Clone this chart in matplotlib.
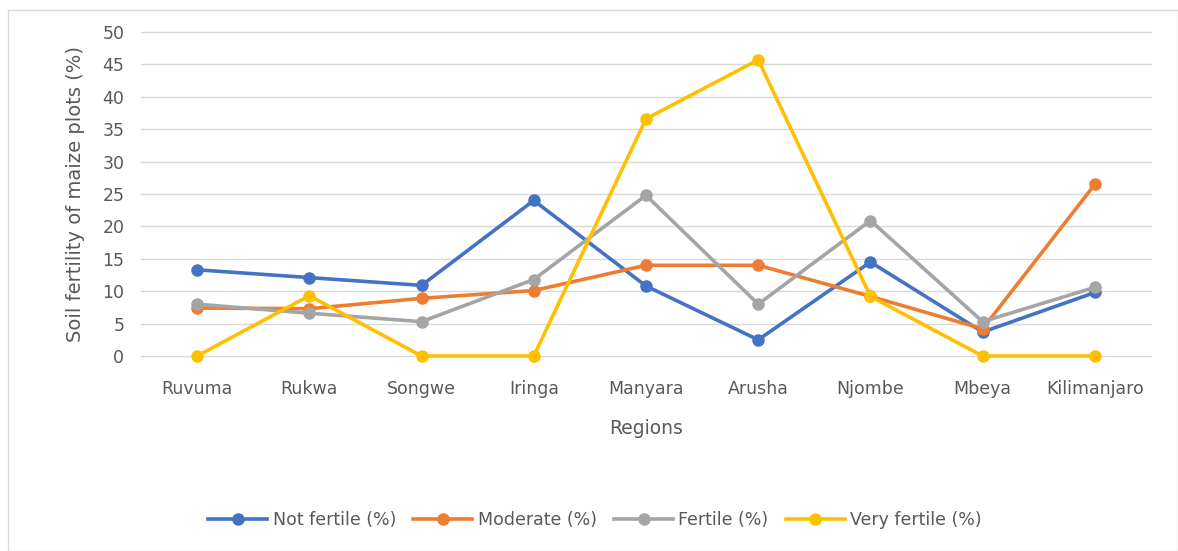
import matplotlib.pyplot as plt
from matplotlib.patches import Rectangle

plt.rcParams['font.family'] = ['DejaVu Sans']

regions = ['Ruvuma', 'Rukwa', 'Songwe', 'Iringa', 'Manyara', 'Arusha',
           'Njombe', 'Mbeya', 'Kilimanjaro']
not_fertile = [13.3, 12.1, 10.9, 24.0, 10.8, 2.5, 14.5, 3.7, 9.8]
moderate = [7.4, 7.3, 8.9, 10.1, 14.0, 14.0, 9.2, 4.2, 26.5]
fertile = [8.0, 6.6, 5.3, 11.8, 24.8, 8.0, 20.9, 5.3, 10.6]
very_fertile = [0, 9.3, 0, 0, 36.6, 45.7, 9.2, 0, 0]

series = [
    ('Not fertile (%)', not_fertile, '#4472C4'),
    ('Moderate (%)', moderate, '#ED7D31'),
    ('Fertile (%)', fertile, '#A5A5A5'),
    ('Very fertile (%)', very_fertile, '#FFC000'),
]

fig = plt.figure(figsize=(11.78, 5.51), dpi=100)
# chart border
fig.patches.append(Rectangle((8 / 1178, 0), 1 - 8 / 1178, 1 - 10 / 551,
                             transform=fig.transFigure, fill=False,
                             edgecolor='#D9D9D9', linewidth=1))

ax = fig.add_axes([141 / 1178, 1 - 356 / 551, 1010 / 1178, 324 / 551])
x = list(range(len(regions)))
for name, vals, col in series:
    ax.plot(x, vals, color=col, linewidth=2.6, marker='o', markersize=8,
            label=name, solid_joinstyle='round', clip_on=False, zorder=3)

ax.set_xlim(-0.5, len(regions) - 0.5)
ax.set_ylim(0, 50)
ax.set_yticks(range(0, 51, 5))
ax.set_xticks(x)
ax.set_xticklabels(regions)
ax.set_axisbelow(True)
for yv in range(0, 51, 5):
    ax.axhline(yv, color='#D9D9D9', linewidth=1, clip_on=False, zorder=1)
for s in ax.spines.values():
    s.set_visible(False)
ax.tick_params(length=0, labelsize=12.5, colors='#595959')
ax.tick_params(axis='y', pad=12)
ax.tick_params(axis='x', pad=17)
ax.set_xlabel('Regions', fontsize=13.5, color='#595959')
ax.set_ylabel('Soil fertility of maize plots (%)', fontsize=14,
              color='#595959')
ax.xaxis.set_label_coords(0.5, (356 - 428) / 324, transform=ax.transAxes)
ax.yaxis.set_label_coords((76 - 141) / 1010, 0.5, transform=ax.transAxes)
ax.xaxis.label.set_va('center')
ax.yaxis.label.set_va('center')

leg = fig.legend(loc='center', bbox_to_anchor=(595 / 1178, 1 - 520 / 551),
                 ncol=4, frameon=False, fontsize=12.5, handlelength=3.4,
                 columnspacing=1.0, handletextpad=0.3)
for t in leg.get_texts():
    t.set_color('#595959')

fig.savefig('out.png', dpi=100)
